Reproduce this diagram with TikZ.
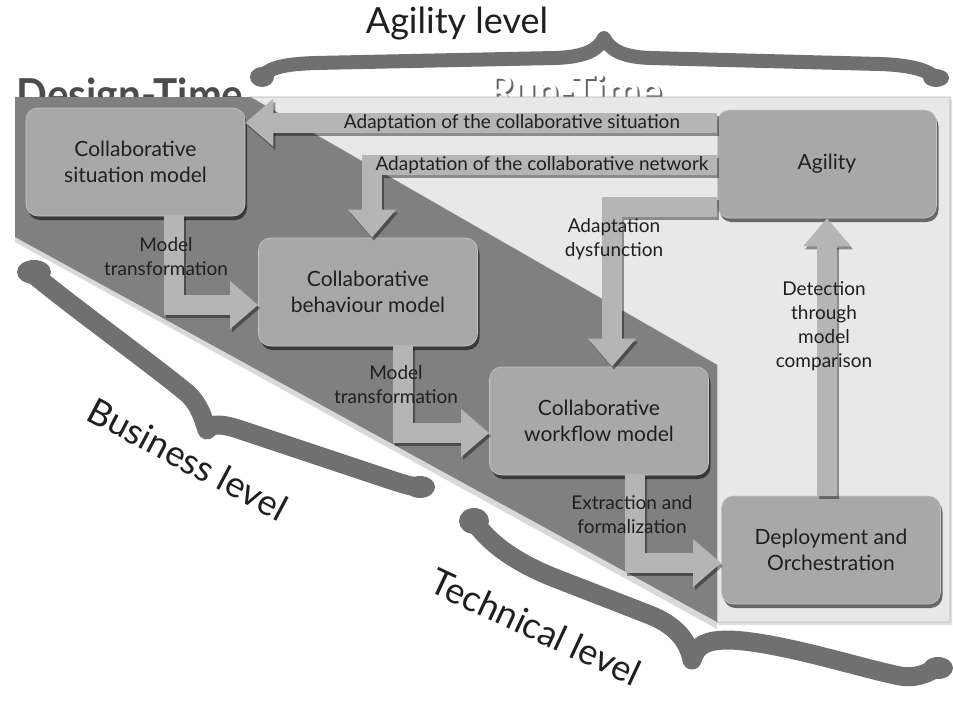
\documentclass[tikz,border=0pt]{standalone}
\usepackage{fontspec}
\setmainfont{Lato}
\usetikzlibrary{arrows.meta,shadows,calc}
\definecolor{darkreg}{gray}{0.50}
\definecolor{lightreg}{gray}{0.91}
\definecolor{boxfill}{gray}{0.66}
\definecolor{arrowfill}{gray}{0.71}
\definecolor{bracecol}{gray}{0.44}
\definecolor{txt}{gray}{0.12}
\tikzset{
  box/.style={rounded corners=12pt, fill=boxfill, draw=gray!45, line width=0.6pt,
    minimum width=219pt, minimum height=108pt, align=center, text=txt,
    font=\fontsize{21}{26}\selectfont,
    drop shadow={shadow xshift=2pt, shadow yshift=-4pt, opacity=0.55, fill=black}},
  fat/.style={draw=arrowfill, line width=20pt, -{Triangle[length=28pt,width=46pt]}},
  fatsh/.style={draw=black, opacity=0.4, line width=20pt, -{Triangle[length=28pt,width=46pt]},
    transform canvas={shift={(2,3)}}},
  lbl/.style={align=center, text=txt, font=\fontsize{19}{24}\selectfont},
  biglbl/.style={text=txt, font=\fontsize{36}{40}\selectfont},
  titlelbl/.style={font=\bfseries\fontsize{44}{44}\selectfont, anchor=base, xscale=0.92},
  brace/.style={draw=bracecol, line width=19pt, line cap=round, line join=round},
  blob/.style={fill=bracecol}
}
\newcommand\fatarrow[1]{\draw[fatsh] #1; \draw[fat] #1;}
\begin{document}
\begin{tikzpicture}[x=1pt,y=-1pt]
\useasboundingbox (0,0) rectangle (953,702);
\fill[white] (0,0) rectangle (953,702);

% top brace
\draw[brace, line width=14pt] (262,76) .. controls (272,66) and (290,64) .. (315,63)
  -- (555,58) .. controls (585,57) and (598,50) .. (604,38)
  .. controls (610,50) and (623,57) .. (650,58)
  -- (880,64) .. controls (910,65) and (928,70) .. (936,78);
\fill[blob] (262,77) ellipse (12 and 10);
\fill[blob] (936,78) ellipse (13 and 9);
\node[biglbl] (agl) at (457,24) {Agility level};

% half-hidden region titles
\node[titlelbl, text=gray!60!black] (dtl) at (130,110) {Design-Time};
\node[titlelbl, text=black!60] at (577,108) {Run-Time};
\node[titlelbl, text=white] (rtl) at (575,106) {Run-Time};

% regions
\fill[black, opacity=0.12] (252,99) -- (952,99) -- (952,625) -- (719,625) -- cycle;
\filldraw[fill=lightreg, draw=gray!60, line width=0.8pt] (250,97) -- (950,97) -- (950,622) -- (717,622) -- (717,365) -- cycle;
\fill[black, opacity=0.15] (15,242) -- (717,629) -- (717,622) -- (15,237) -- cycle;
\fill[darkreg] (15,97) -- (250,97) -- (717,365) -- (717,622) -- (15,237) -- cycle;

% business level brace
\draw[brace] (32,273) .. controls (70,305) and (140,355) .. (187,393)
  .. controls (200,405) and (203,418) .. (207,430)
  .. controls (212,423) and (222,424) .. (238,429)
  -- (385,478) .. controls (400,483) and (412,487) .. (420,487);
\fill[blob] (34,272) ellipse (17 and 12);
\fill[blob] (420,487) ellipse (15 and 11);
\node[biglbl, rotate=-28] (bl) at (188,459) {Business level};

% technical level brace
\draw[brace] (474,521) .. controls (490,545) and (520,565) .. (560,580)
  -- (650,615) .. controls (675,625) and (688,640) .. (692,660)
  .. controls (697,645) and (705,640) .. (730,640)
  .. controls (780,642) and (860,668) .. (900,676)
  .. controls (915,679) and (928,673) .. (936,668);
\fill[blob] (474,521) ellipse (15 and 13);
\fill[blob] (938,668) ellipse (15 and 11);
\node[biglbl, rotate=-25] (tl) at (536,627) {Technical level};

% boxes
\node[box] (sit) at (135.5,162) {Collaborative\\situation model};
\node[box] (beh) at (368,292) {Collaborative\\behaviour model};
\node[box] (wf) at (599,421) {Collaborative\\workflow model};
\node[box] (agil) at (827,164) {Agility};
\node[box] (dep) at (831,550) {Deployment and\\Orchestration};

% arrows
\coordinate (a1s) at ($(agil.north west)+(0,13)$);
\coordinate (a2s) at ($(agil.west)+(0,1)$);
\coordinate (a3s) at ($(agil.south west)+(0,-11)$);
\fatarrow{(a1s) -- (a1s -| sit.east)}
\fatarrow{(a2s) -| ($(beh.north)+(4,0)$)}
\fatarrow{(a3s) -| ($(wf.north)+(13,0)$)}
\fatarrow{(dep.north -| agil.south) -- (agil.south)}
\fatarrow{($(sit.south)+(38,0)$) |- ($(beh.west)+(0,13)$)}
\fatarrow{($(beh.south)+(35,0)$) |- ($(wf.west)+(0,12)$)}
\fatarrow{($(wf.south)+(36,0)$) |- ($(dep.west)+(0,13)$)}

% arrow labels
\node[lbl] (l1) at (512,123) {Adaptation of the collaborative situation};
\node[lbl] (l2) at (542,165) {Adaptation of the collaborative network};
\node[lbl] (l3) at (614,239) {Adaptation\\dysfunction};
\node[lbl] (l4) at (824,326) {Detection\\through\\model\\comparison};
\node[lbl] (l5) at (166,257) {Model\\transformation};
\node[lbl] (l6) at (396,385) {Model\\transformation};
\node[lbl] (l7) at (632,515) {Extraction and\\formalization};
\end{tikzpicture}
\end{document}
